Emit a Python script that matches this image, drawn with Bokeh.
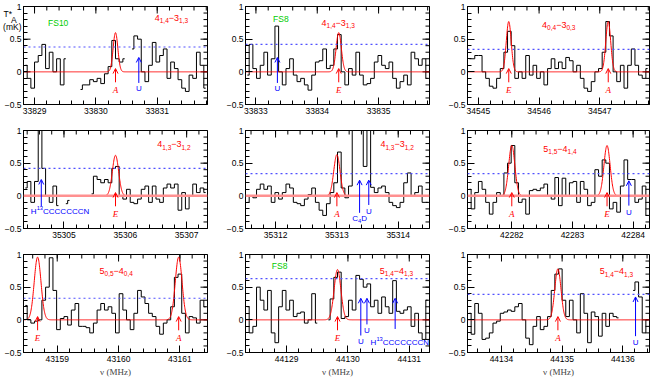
import numpy as np
from bokeh.plotting import figure
from bokeh.layouts import gridplot
from bokeh.models import (SingleIntervalTicker, FixedTicker, LinearAxis, Label, Arrow, OpenHead,
                          Span, NumeralTickFormatter, Range1d, AllLabels)
from bokeh.embed import file_html
from bokeh.resources import INLINE

nan = float("nan")

# ---------------- data ----------------
DNU = 0.06          # channel width (MHz)
SPAN_MHZ = 3.0      # width of every frequency window (MHz)
F_START = [33828.82, 33832.83, 34544.82, 35304.34, 35311.51,
           42281.27, 43158.45, 44128.33, 44133.44]

T1 = [0.1, -0.1, -0.25, 0.15, 0.25, 0.42, 0.05, 0.3, 0.0, 0.2,
      -0.2, 0.2, nan, nan, nan, -0.27, -0.2, -0.2, -0.12, -0.15,
      -0.1, -0.18, -0.03, 0.08, 0.48, 0.2, 0.15, 0.2, nan, 0.35,
      0.55, 0.5, 0.0, -0.15, 0.1, 0.45, 0.15, 0.25, 0.35, -0.1,
      0.15, 0.05, -0.12, -0.25, -0.3, -0.05, -0.1, 0.3, 0.1, -0.25]
T2 = [-0.05, 0.42, 0.05, -0.1, 0.1, 0.3, -0.05, 0.2, 0.7, 0.0,
      -0.2, 0.05, 0.2, -0.05, -0.15, -0.1, -0.2, -0.28, -0.05, 0.15,
      0.17, 0.35, 0.05, 0.1, 0.35, 0.57, 0.0, -0.2, 0.05, -0.05,
      0.3, -0.05, -0.2, -0.18, -0.1, 0.15, 0.25, 0.1, 0.05, 0.15,
      -0.1, -0.25, -0.15, -0.05, -0.2, 0.3, 0.2, 0.1, 0.2, -0.1]
T3 = [0.2, 0.2, 0.25, 0.25, 0.0, -0.1, -0.22, -0.25, -0.1, 0.05,
      0.3, 0.62, 0.4, -0.1, 0.0, -0.1, 0.25, -0.05, 0.1, -0.1,
      0.0, -0.2, 0.05, 0.2, 0.05, 0.15, 0.05, 0.22, 0.17, 0.0,
      0.1, -0.1, -0.25, -0.3, -0.15, 0.0, 0.05, 0.3, 0.77, 0.55,
      0.0, -0.15, 0.1, -0.25, 0.1, 0.35, 0.1, -0.05, -0.1, 0.05]
T4 = [0.12, 0.22, -0.1, 0.22, 1.6, 0.42, 0.0, -0.1, 0.15, -0.15,
      nan, -0.12, -0.07, nan, nan, nan, nan, nan, 0.03, 0.3,
      0.25, 0.2, 0.25, 0.2, 0.42, 0.45, 0.0, -0.05, 0.1, -0.1,
      -0.12, -0.05, 0.1, 0.15, -0.1, 0.15, -0.05, -0.1, 0.12, 0.18,
      0.12, 0.18, -0.22, 0.05, -0.2, 0.0, 0.18, 0.05, 0.12, 0.05]
T5 = [-0.1, 0.0, -0.03, 0.1, 0.18, 0.1, 0.15, -0.1, 0.05, -0.05,
      0.05, 0.18, 0.12, -0.1, -0.12, -0.15, -0.05, 0.02, 0.12, -0.1,
      -0.22, -0.3, -0.12, 0.05, 0.2, 0.67, 0.12, -0.03, 0.15, 1.6,
      1.6, 1.6, 0.45, 1.6, 0.13, 0.05, 0.12, 0.15, 0.05, -0.1,
      -0.15, -0.18, -0.1, 0.2, 0.35, 0.0, 0.05, 0.15, -0.1, -0.1]
T6 = [0.1, -0.2, 0.05, 0.22, 0.1, -0.1, -0.28, -0.1, 0.05, 0.0,
      0.35, 0.5, 0.77, 0.2, -0.1, -0.05, -0.28, 0.08, 0.1, 0.08,
      0.12, 0.18, 0.0, -0.05, 0.28, -0.15, 0.27, 0.0, 0.2, 0.22,
      -0.1, 0.22, 0.1, -0.15, -0.1, 0.4, 0.3, 0.55, 0.5, -0.2,
      -0.1, -0.25, 0.15, 0.55, 0.25, 0.25, -0.1, -0.05, 0.15, -0.3]
T7 = [0.22, 0.0, -0.05, -0.02, 0.0, 0.3, 0.5, 0.95, 0.45, -0.15,
      0.02, 0.05, -0.08, 0.15, 0.25, -0.1, -0.1, -0.12, -0.2, -0.05,
      0.15, 0.25, 0.15, 0.2, 0.1, -0.2, 0.4, 0.15, 0.0, -0.15,
      0.1, 0.45, 0.35, 0.25, 0.1, 0.05, -0.1, -0.22, -0.05, 0.0,
      0.2, 0.65, 0.7, 0.1, -0.2, 0.05, 0.03, -0.05, 0.3, 0.2]
T8 = [0.2, -0.2, -0.1, 0.5, 0.3, 0.15, 0.45, -0.2, -0.35, 0.2,
      0.45, 0.15, 0.3, 0.05, 0.1, 0.12, -0.05, 0.0, 0.4, -0.05,
      nan, nan, 0.0, 0.32, 0.65, 0.73, 0.02, 0.05, 0.3, 0.15,
      0.68, 0.62, 0.5, 0.55, 0.2, 0.3, 0.1, 0.35, 0.2, 0.1,
      0.6, 0.13, 0.1, 0.15, 0.2, -0.1, 0.1, -0.2, -0.3, 0.3]
T9 = [0.1, -0.22, 0.25, 0.1, -0.3, -0.28, -0.2, -0.05, -0.02, 0.1,
      0.12, 0.15, 0.13, 0.2, 0.25, 0.0, -0.28, -0.38, -0.1, 0.05,
      -0.15, -0.1, 0.05, 0.45, 0.7, 0.78, 0.3, 0.05, 0.3, 0.0,
      -0.2, 0.4, 0.1, -0.35, 0.12, 0.05, -0.25, 0.1, -0.1, 0.1,
      0.05, 0.03, nan, nan, nan, 0.45, 0.58, 0.35, -0.2, 0.0]
SPECTRA = [T1, T2, T3, T4, T5, T6, T7, T8, T9]

RMS3 = [0.38, 0.42, 0.345, 0.42, 0.34, 0.34, 0.33, 0.63, 0.39]   # 3 sigma level

LINE_NU = [[33830.32], [33834.35], [34545.50, 34547.14], [35305.84], [35313.00],
           [42282.00, 42283.57], [43158.68, 43160.98], [44129.83], [44134.93]]
LINE_PEAK = [[0.60], [0.60], [0.77, 0.77], [0.62], [0.63],
             [0.77, 0.77], [0.96, 0.96], [0.77], [0.78]]
LINE_FWHM = [[0.09], [0.10], [0.095, 0.095], [0.12], [0.12],
             [0.12, 0.12], [0.13, 0.13], [0.13], [0.12]]
LINE_SYM = [["A"], ["E"], ["E", "A"], ["E"], ["A"], ["A", "E"], ["E", "A"], ["E"], ["A"]]

TRANS = [("4", "1,4", "3", "1,3"), ("4", "1,4", "3", "1,3"), ("4", "0,4", "3", "0,3"),
         ("4", "1,3", "3", "1,2"), ("4", "1,3", "3", "1,2"), ("5", "1,5", "4", "1,4"),
         ("5", "0,5", "4", "0,4"), ("5", "1,4", "4", "1,3"), ("5", "1,4", "4", "1,3")]
TRANS_X = [33830.96, 33834.07, 34546.05, 35306.52, 35313.71, 42282.52, 43159.69, 44130.52, 44135.62]
TRANS_Y = [0.83, 0.75, 0.72, 0.79, 0.79, 0.72, 0.75, 0.75, 0.74]

FS_LAB = {0: ("FS10", 33829.22, 0.75), 1: ("FS8", 33833.28, 0.81), 7: ("FS8", 44128.76, 0.82)}

# blue arrows: panel -> list of (nu, tip, tail, label, label_x, label_centre)
U_ARROWS = {
    0: [(33830.70, 0.22, -0.17, "U", 33830.70, -0.26)],
    1: [(33833.35, 0.22, -0.17, "U", 33833.35, -0.26)],
    3: [(35304.63, 0.25, -0.16, "H13", 35304.46, -0.24)],
    4: [(35313.37, 0.24, -0.26, "C4D", 35313.37, -0.35),
        (35313.52, 0.24, -0.14, "U", 35313.52, -0.24)],
    5: [(42283.93, 0.23, -0.15, "U", 42283.93, -0.25)],
    7: [(44130.21, 0.33, -0.24, "U", 44130.21, -0.33),
        (44130.31, 0.33, -0.07, "U", 44130.31, -0.16),
        (44130.77, 0.33, -0.14, "H13", 44130.37, -0.34)],
    8: [(44136.21, 0.35, -0.25, "U", 44136.21, -0.35)],
}
RED_TIP, RED_TAIL, RED_LAB = 0.05, -0.16, -0.20

# y-axis title of the first panel, written as extra tick labels of its left axis
NB = "\u00a0"
YTITLE = {0.88: "T*" + NB * 4, 0.80: "A" + NB * 2, 0.69: "(mK)"}

# ---------------- styling ----------------
SANS = "Liberation Sans"
SERIF = "Liberation Serif"
FH = 98
PXU = FH / 1.5
TMAJ, TMIN = 7, 4
CW = {",": .278, "−": .584, "H": .722, "C": .722, "N": .722, "D": .722, "U": .722,
      "T": .611, "*": .389, "A": .667, "E": .667, "F": .611, "S": .667}


def tw(t, s):
    return sum(CW.get(c, .556) for c in t) * s


def rich(p, x, y, parts, color, size, font=SANS, align="left", baseline="middle", style="normal"):
    sizes = [size * 0.72 if k else size for _, k in parts]
    total = sum(tw(t, s) for (t, k), s in zip(parts, sizes))
    off = 0.0 if align == "left" else -total / 2
    for (t, k), s in zip(parts, sizes):
        dy = {0: 0.0, 1: -0.33 * size, 2: 0.42 * size}[k] / PXU
        p.add_layout(Label(x=x, y=y + dy, x_offset=off, text=t, text_color=color,
                           text_font=font, text_font_size=f"{s:.1f}px", text_align="left",
                           text_baseline=baseline, text_font_style=style))
        off += tw(t, s)


def style_axis(ax, standoff=2):
    ax.major_tick_in = TMAJ
    ax.major_tick_out = 0
    ax.minor_tick_in = TMIN
    ax.minor_tick_out = 0
    ax.axis_line_color = "black"
    ax.major_tick_line_color = "black"
    ax.minor_tick_line_color = "black"
    ax.major_label_text_font = SANS
    ax.major_label_text_font_size = "8.5px"
    ax.major_label_text_color = "black"
    ax.major_label_standoff = standoff
    ax.major_label_policy = AllLabels()


YLAB = {1: "1", 0.5: "0.5", 0: "0", -0.5: "−0.5"}
LABEL_PARTS = {"U": [("U", 0)], "C4D": [("C", 0), ("4", 1), ("D", 0)],
               "H13": [("H", 0), ("13", 2), ("CCCCCCCN", 0)]}

panels = []
for k in range(9):
    col, rw = k % 3, k // 3
    lb = [20, 36, 36][col]
    fw = [184, 184, 182][col]
    tb = [6, 12, 12][rw]
    bb = [14, 14, 26][rw]
    x0 = F_START[k]
    x1 = x0 + SPAN_MHZ
    p = figure(frame_width=fw, frame_height=FH, x_range=Range1d(x0, x1), y_range=Range1d(-0.5, 1.0),
               x_axis_type=None, y_axis_type=None, output_backend="svg", toolbar_location=None,
               min_border_left=lb, min_border_right=2, min_border_top=tb, min_border_bottom=bb)
    p.outline_line_color = "black"
    p.outline_line_width = 1
    p.background_fill_color = "white"
    p.border_fill_color = "white"

    ax = LinearAxis(ticker=SingleIntervalTicker(interval=1, num_minor_ticks=5),
                    formatter=NumeralTickFormatter(format="0"))
    style_axis(ax, standoff=3)
    if rw == 2:
        ax.axis_label = "ν (MHz)"
        ax.axis_label_text_font = SERIF
        ax.axis_label_text_font_style = "normal"
        ax.axis_label_text_font_size = "9px"
        ax.axis_label_standoff = 2
    p.add_layout(ax, "below")

    ty_major = np.arange(-0.5, 1.01, 0.5)
    ty_minor = np.arange(-0.5, 1.01, 0.1)
    if k == 0:
        ay = LinearAxis(ticker=FixedTicker(ticks=list(ty_major) + list(YTITLE.keys()),
                                           minor_ticks=list(ty_minor)))
        style_axis(ay)
        ay.major_tick_in = 0
        lab = dict(YLAB)
        lab.update(YTITLE)
        ay.major_label_overrides = lab
        p.scatter(np.full(len(ty_major), x0), ty_major, marker="dash", size=2 * TMAJ,
                  line_color="black", line_width=1)
    else:
        ay = LinearAxis(ticker=SingleIntervalTicker(interval=0.5, num_minor_ticks=5))
        style_axis(ay)
        ay.major_label_overrides = YLAB
    p.add_layout(ay, "left")

    # mirrored inward ticks on the top and right edges (half of each dash is clipped by the frame)
    tx_major = np.arange(np.ceil(x0), x1, 1.0)
    tx_minor = np.arange(np.ceil(x0 / 0.2) * 0.2, x1, 0.2)
    p.scatter(tx_major, np.full(len(tx_major), 1.0), marker="dash", angle=np.pi / 2, size=2 * TMAJ,
              line_color="black", line_width=1)
    p.scatter(tx_minor, np.full(len(tx_minor), 1.0), marker="dash", angle=np.pi / 2, size=2 * TMIN,
              line_color="black", line_width=1)
    p.scatter(np.full(len(ty_major), x1), ty_major, marker="dash", size=2 * TMAJ,
              line_color="black", line_width=1)
    p.scatter(np.full(len(ty_minor), x1), ty_minor, marker="dash", size=2 * TMIN,
              line_color="black", line_width=1)

    vals = np.array(SPECTRA[k], dtype=float)
    nu = x0 + DNU * (np.arange(len(vals)) + 0.5)
    p.step(nu, vals, mode="center", line_color="black", line_width=1)

    # LTE model (gaussians)
    xx = np.linspace(x0, x1, 900)
    yy = np.zeros_like(xx)
    for c, a, w in zip(LINE_NU[k], LINE_PEAK[k], LINE_FWHM[k]):
        yy += a * np.exp(-4 * np.log(2) * (xx - c) ** 2 / w ** 2)
    if rw == 1:
        p.add_layout(Span(location=0, dimension="width", line_color="#ff9090", line_width=2.5))
        ym = yy.copy()
        ym[ym < 0.004] = nan
        p.line(xx, ym, line_color="red", line_width=1)
    else:
        p.line(xx, yy, line_color="red", line_width=1)

    p.add_layout(Span(location=RMS3[k], dimension="width", line_color="#5050ff",
                      line_dash="2 3", line_width=1.2))

    # red arrows with A/E
    for c, s in zip(LINE_NU[k], LINE_SYM[k]):
        p.add_layout(Arrow(end=OpenHead(size=5, line_color="red", line_width=1),
                           x_start=c, y_start=RED_TAIL, x_end=c, y_end=RED_TIP,
                           line_color="red", line_width=1))
        p.add_layout(Label(x=c, y=RED_LAB, text=s, text_color="red", text_font=SERIF,
                           text_font_style="italic", text_font_size="9px",
                           text_align="center", text_baseline="top"))

    # blue arrows
    for (c, tip, tail, lab_, lx, ly) in U_ARROWS.get(k, []):
        p.add_layout(Arrow(end=OpenHead(size=5, line_color="blue", line_width=1),
                           x_start=c, y_start=tail, x_end=c, y_end=tip,
                           line_color="blue", line_width=1))
        align = "left" if lab_ == "H13" else "center"
        rich(p, lx, ly, LABEL_PARTS[lab_], "blue", 8.0, align=align, baseline="middle")

    # transition label
    a, sa, b, sb = TRANS[k]
    rich(p, TRANS_X[k], TRANS_Y[k], [(a, 0), (sa, 1), ("−" + b, 0), (sb, 1)], "red", 9.0)

    if k in FS_LAB:
        t, fx, fy = FS_LAB[k]
        p.add_layout(Label(x=fx, y=fy, text=t, text_color="#00cc00", text_font=SANS,
                           text_font_size="8.5px", text_baseline="middle", text_align="left"))
    panels.append(p)

grid = gridplot([panels[0:3], panels[3:6], panels[6:9]], toolbar_location=None)
open("out.html", "w").write(file_html(grid, INLINE))
